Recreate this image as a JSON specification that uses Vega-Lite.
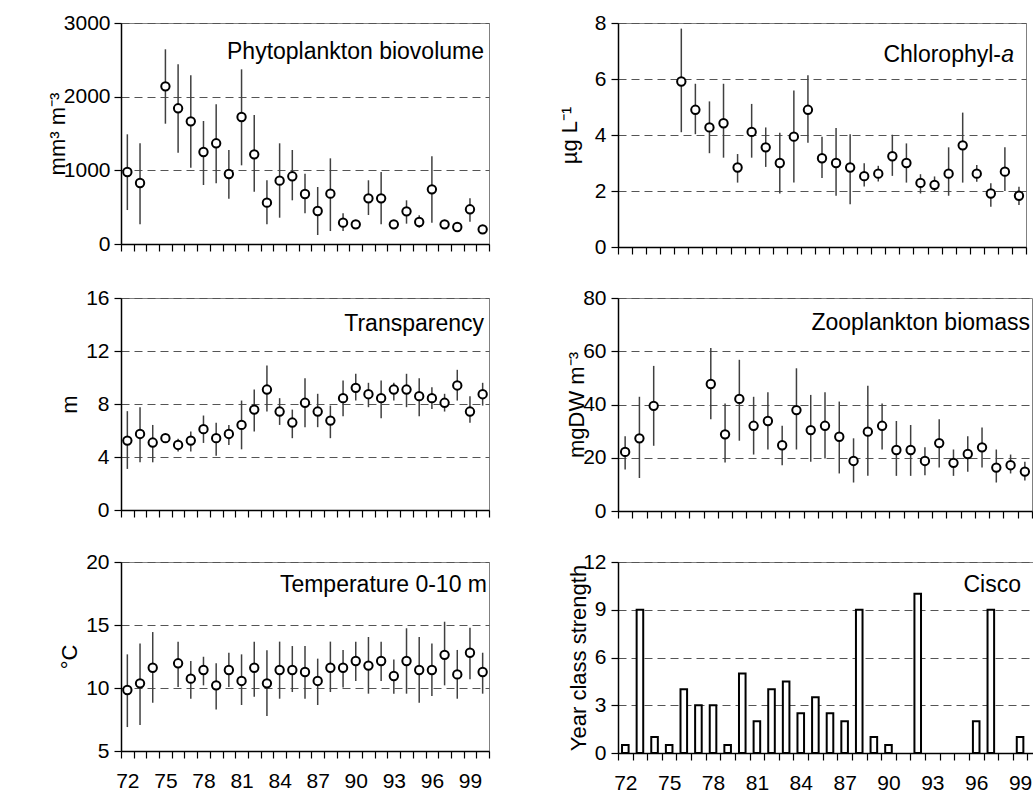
{
  "$schema": "https://vega.github.io/schema/vega-lite/v6.json",
  "background": "white",
  "padding": {"left": 45, "top": 11, "right": 0, "bottom": 0},
  "config": {
    "font": "Liberation Sans",
    "view": {"stroke": "#808080", "strokeWidth": 1},
    "axis": {
      "labelFont": "Liberation Sans", "labelFontSize": 21, "labelColor": "black",
      "titleFont": "Liberation Sans", "titleFontSize": 22, "titleFontWeight": "normal", "titleColor": "black",
      "domainColor": "black", "domainWidth": 1.5, "tickColor": "black", "tickWidth": 1.2, "tickSize": 7,
      "gridColor": "#555555", "gridDash": [8, 5], "gridWidth": 1
    },
    "title": {"font": "Liberation Sans", "fontSize": 23, "fontWeight": "normal", "color": "black", "anchor": "end", "frame": "group", "baseline": "alphabetic"}
  },
  "datasets": {
    "phyto": [
      {"year": 72, "m": 977, "lo": 461, "hi": 1489},
      {"year": 73, "m": 828, "lo": 267, "hi": 1367},
      {"year": 75, "m": 2140, "lo": 1633, "hi": 2643},
      {"year": 76, "m": 1842, "lo": 1240, "hi": 2439},
      {"year": 77, "m": 1665, "lo": 1036, "hi": 2290},
      {"year": 78, "m": 1249, "lo": 801, "hi": 1670},
      {"year": 79, "m": 1367, "lo": 824, "hi": 1896},
      {"year": 80, "m": 950, "lo": 615, "hi": 1276},
      {"year": 81, "m": 1724, "lo": 1068, "hi": 2371},
      {"year": 82, "m": 1217, "lo": 710, "hi": 1751},
      {"year": 83, "m": 561, "lo": 267, "hi": 865},
      {"year": 84, "m": 860, "lo": 357, "hi": 1367},
      {"year": 85, "m": 919, "lo": 593, "hi": 1276},
      {"year": 86, "m": 679, "lo": 417, "hi": 955},
      {"year": 87, "m": 448, "lo": 122, "hi": 774},
      {"year": 88, "m": 683, "lo": 176, "hi": 1163},
      {"year": 89, "m": 290, "lo": 176, "hi": 417},
      {"year": 90, "m": 267, "lo": 220, "hi": 320},
      {"year": 91, "m": 620, "lo": 394, "hi": 865},
      {"year": 92, "m": 620, "lo": 267, "hi": 977},
      {"year": 93, "m": 267, "lo": 220, "hi": 315},
      {"year": 94, "m": 443, "lo": 276, "hi": 593},
      {"year": 95, "m": 299, "lo": 222, "hi": 390},
      {"year": 96, "m": 742, "lo": 290, "hi": 1190},
      {"year": 97, "m": 267, "lo": 220, "hi": 315},
      {"year": 98, "m": 231, "lo": 190, "hi": 275},
      {"year": 99, "m": 471, "lo": 303, "hi": 620},
      {"year": 100, "m": 199, "lo": 160, "hi": 240}
    ],
    "chl": [
      {"year": 76, "m": 5.91, "lo": 4.1, "hi": 7.8},
      {"year": 77, "m": 4.9, "lo": 4.03, "hi": 5.83},
      {"year": 78, "m": 4.27, "lo": 3.35, "hi": 5.2},
      {"year": 79, "m": 4.42, "lo": 3.19, "hi": 5.83},
      {"year": 80, "m": 2.84, "lo": 2.3, "hi": 3.32},
      {"year": 81, "m": 4.11, "lo": 3.19, "hi": 5.11},
      {"year": 82, "m": 3.56, "lo": 2.86, "hi": 4.27},
      {"year": 83, "m": 3.0, "lo": 1.91, "hi": 4.08},
      {"year": 84, "m": 3.94, "lo": 2.3, "hi": 5.59},
      {"year": 85, "m": 4.9, "lo": 3.72, "hi": 6.13},
      {"year": 86, "m": 3.17, "lo": 2.46, "hi": 3.94},
      {"year": 87, "m": 3.0, "lo": 1.83, "hi": 4.25},
      {"year": 88, "m": 2.84, "lo": 1.53, "hi": 4.03},
      {"year": 89, "m": 2.53, "lo": 2.16, "hi": 2.99},
      {"year": 90, "m": 2.62, "lo": 2.34, "hi": 2.9},
      {"year": 91, "m": 3.24, "lo": 2.54, "hi": 4.01},
      {"year": 92, "m": 3.0, "lo": 2.3, "hi": 3.7},
      {"year": 93, "m": 2.29, "lo": 1.91, "hi": 2.6},
      {"year": 94, "m": 2.22, "lo": 2.0, "hi": 2.52},
      {"year": 95, "m": 2.62, "lo": 1.83, "hi": 3.56},
      {"year": 96, "m": 3.63, "lo": 2.3, "hi": 4.8},
      {"year": 97, "m": 2.62, "lo": 2.33, "hi": 2.93},
      {"year": 98, "m": 1.91, "lo": 1.44, "hi": 2.28},
      {"year": 99, "m": 2.69, "lo": 2.0, "hi": 3.56},
      {"year": 100, "m": 1.83, "lo": 1.5, "hi": 2.15}
    ],
    "trans": [
      {"year": 72, "m": 5.24, "lo": 3.1, "hi": 7.46},
      {"year": 73, "m": 5.74, "lo": 3.6, "hi": 7.76},
      {"year": 74, "m": 5.09, "lo": 3.6, "hi": 6.42},
      {"year": 75, "m": 5.42, "lo": 5.1, "hi": 5.7},
      {"year": 76, "m": 4.91, "lo": 4.41, "hi": 5.37},
      {"year": 77, "m": 5.24, "lo": 4.41, "hi": 5.92},
      {"year": 78, "m": 6.1, "lo": 5.06, "hi": 7.13},
      {"year": 79, "m": 5.42, "lo": 4.1, "hi": 6.58},
      {"year": 80, "m": 5.74, "lo": 4.91, "hi": 6.42},
      {"year": 81, "m": 6.42, "lo": 4.58, "hi": 8.26},
      {"year": 82, "m": 7.58, "lo": 5.92, "hi": 9.09},
      {"year": 83, "m": 9.09, "lo": 7.43, "hi": 10.91},
      {"year": 84, "m": 7.43, "lo": 6.42, "hi": 8.44},
      {"year": 85, "m": 6.6, "lo": 5.42, "hi": 7.58},
      {"year": 86, "m": 8.09, "lo": 6.25, "hi": 9.95},
      {"year": 87, "m": 7.43, "lo": 6.25, "hi": 8.77},
      {"year": 88, "m": 6.75, "lo": 5.42, "hi": 7.88},
      {"year": 89, "m": 8.44, "lo": 7.08, "hi": 9.77},
      {"year": 90, "m": 9.22, "lo": 8.26, "hi": 10.28},
      {"year": 91, "m": 8.74, "lo": 7.76, "hi": 9.6},
      {"year": 92, "m": 8.44, "lo": 6.93, "hi": 9.77},
      {"year": 93, "m": 9.09, "lo": 8.26, "hi": 9.6},
      {"year": 94, "m": 9.09, "lo": 7.76, "hi": 10.28},
      {"year": 95, "m": 8.59, "lo": 7.08, "hi": 9.95},
      {"year": 96, "m": 8.44, "lo": 7.63, "hi": 9.27},
      {"year": 97, "m": 8.09, "lo": 7.43, "hi": 8.77},
      {"year": 98, "m": 9.4, "lo": 8.26, "hi": 10.58},
      {"year": 99, "m": 7.43, "lo": 6.58, "hi": 8.59},
      {"year": 100, "m": 8.74, "lo": 7.88, "hi": 9.6}
    ],
    "zoo": [
      {"year": 72, "m": 22.2, "lo": 15.6, "hi": 28.1},
      {"year": 73, "m": 27.3, "lo": 12.4, "hi": 42.9},
      {"year": 74, "m": 39.5, "lo": 24.5, "hi": 54.5},
      {"year": 78, "m": 47.7, "lo": 34.5, "hi": 61.2},
      {"year": 79, "m": 28.8, "lo": 18.2, "hi": 40.4},
      {"year": 80, "m": 42.1, "lo": 26.4, "hi": 56.8},
      {"year": 81, "m": 32.0, "lo": 21.2, "hi": 42.9},
      {"year": 82, "m": 33.8, "lo": 23.1, "hi": 44.6},
      {"year": 83, "m": 24.7, "lo": 17.2, "hi": 32.0},
      {"year": 84, "m": 37.9, "lo": 23.1, "hi": 53.6},
      {"year": 85, "m": 30.4, "lo": 18.5, "hi": 43.6},
      {"year": 86, "m": 32.0, "lo": 19.7, "hi": 44.6},
      {"year": 87, "m": 27.9, "lo": 14.1, "hi": 41.1},
      {"year": 88, "m": 18.8, "lo": 10.7, "hi": 27.3},
      {"year": 89, "m": 29.8, "lo": 13.2, "hi": 47.0},
      {"year": 90, "m": 32.0, "lo": 23.1, "hi": 40.4},
      {"year": 91, "m": 22.9, "lo": 13.2, "hi": 33.8},
      {"year": 92, "m": 22.9, "lo": 13.2, "hi": 32.3},
      {"year": 93, "m": 18.8, "lo": 13.4, "hi": 23.9},
      {"year": 94, "m": 25.5, "lo": 16.3, "hi": 34.5},
      {"year": 95, "m": 18.1, "lo": 13.2, "hi": 23.1},
      {"year": 96, "m": 21.4, "lo": 14.7, "hi": 28.1},
      {"year": 97, "m": 23.9, "lo": 16.3, "hi": 31.4},
      {"year": 98, "m": 16.3, "lo": 10.7, "hi": 23.1},
      {"year": 99, "m": 17.2, "lo": 14.1, "hi": 21.2},
      {"year": 100, "m": 14.8, "lo": 11.5, "hi": 18.5}
    ],
    "temp": [
      {"year": 72, "m": 9.84, "lo": 6.9, "hi": 12.67},
      {"year": 73, "m": 10.37, "lo": 7.06, "hi": 13.54},
      {"year": 74, "m": 11.61, "lo": 8.83, "hi": 14.44},
      {"year": 76, "m": 11.96, "lo": 10.08, "hi": 13.68},
      {"year": 77, "m": 10.74, "lo": 9.15, "hi": 12.14},
      {"year": 78, "m": 11.43, "lo": 10.21, "hi": 12.48},
      {"year": 79, "m": 10.21, "lo": 8.3, "hi": 11.96},
      {"year": 80, "m": 11.43, "lo": 10.08, "hi": 12.8},
      {"year": 81, "m": 10.56, "lo": 8.65, "hi": 12.67},
      {"year": 82, "m": 11.61, "lo": 9.31, "hi": 13.68},
      {"year": 83, "m": 10.37, "lo": 7.78, "hi": 13.0},
      {"year": 84, "m": 11.43, "lo": 9.15, "hi": 13.68},
      {"year": 85, "m": 11.43, "lo": 9.68, "hi": 13.33},
      {"year": 86, "m": 11.27, "lo": 9.15, "hi": 13.33},
      {"year": 87, "m": 10.56, "lo": 8.65, "hi": 12.33},
      {"year": 88, "m": 11.61, "lo": 9.68, "hi": 13.68},
      {"year": 89, "m": 11.61, "lo": 10.03, "hi": 13.02},
      {"year": 90, "m": 12.14, "lo": 10.56, "hi": 13.68},
      {"year": 91, "m": 11.78, "lo": 9.55, "hi": 14.05},
      {"year": 92, "m": 12.14, "lo": 10.56, "hi": 13.68},
      {"year": 93, "m": 10.95, "lo": 9.55, "hi": 12.27},
      {"year": 94, "m": 12.14, "lo": 9.55, "hi": 14.74},
      {"year": 95, "m": 11.43, "lo": 8.83, "hi": 14.05},
      {"year": 96, "m": 11.43, "lo": 9.37, "hi": 13.54},
      {"year": 97, "m": 12.63, "lo": 10.21, "hi": 15.26},
      {"year": 98, "m": 11.08, "lo": 9.15, "hi": 13.02},
      {"year": 99, "m": 12.8, "lo": 10.69, "hi": 14.79},
      {"year": 100, "m": 11.27, "lo": 9.55, "hi": 12.8}
    ],
    "cisco": [
      {"year": 72, "v": 0.5}, {"year": 73, "v": 9}, {"year": 74, "v": 1}, {"year": 75, "v": 0.5},
      {"year": 76, "v": 4}, {"year": 77, "v": 3}, {"year": 78, "v": 3}, {"year": 79, "v": 0.5},
      {"year": 80, "v": 5}, {"year": 81, "v": 2}, {"year": 82, "v": 4}, {"year": 83, "v": 4.5},
      {"year": 84, "v": 2.5}, {"year": 85, "v": 3.5}, {"year": 86, "v": 2.5}, {"year": 87, "v": 2},
      {"year": 88, "v": 9}, {"year": 89, "v": 1}, {"year": 90, "v": 0.5}, {"year": 92, "v": 10},
      {"year": 96, "v": 2}, {"year": 97, "v": 9}, {"year": 99, "v": 1}
    ],
    "chlLabel": [
      {"text": "a", "year": 100, "pos": 6.6}
    ]
  },
  "columns": 2,
  "align": "each",
  "bounds": "flush",
  "spacing": {"row": 51, "column": 129},
  "concat": [
    {
      "width": 368, "height": 221,
      "title": {"text": "Phytoplankton biovolume", "offset": -52, "dx": -5},
      "data": {"name": "phyto"},
      "encoding": {
        "x": {"field": "year", "type": "ordinal", "scale": {"type": "band", "domain": [72,73,74,75,76,77,78,79,80,81,82,83,84,85,86,87,88,89,90,91,92,93,94,95,96,97,98,99,100], "paddingInner": 0, "paddingOuter": 0},
              "axis": {"title": null, "labels": false, "tickBand": "extent", "grid": false}}
      },
      "layer": [
        {"mark": {"type": "rule", "color": "#404040", "strokeWidth": 1.5},
         "encoding": {"y": {"field": "lo", "type": "quantitative", "scale": {"domain": [0, 3000], "nice": false},
                            "axis": {"title": "mm³ m⁻³", "values": [0, 1000, 2000, 3000], "format": "d", "grid": true, "labelPadding": 4, "titleX": -64, "titleBaseline": "middle"}},
                      "y2": {"field": "hi"}}},
        {"mark": {"type": "point", "shape": "circle", "filled": true, "fill": "white", "stroke": "black", "strokeWidth": 2, "size": 70, "opacity": 1},
         "encoding": {"y": {"field": "m", "type": "quantitative"}}}
      ]
    },
    {
      "width": 408, "height": 224,
      "title": {"text": "Chlorophyl-", "offset": -55, "dx": -25},
      "encoding": {
        "x": {"field": "year", "type": "ordinal", "scale": {"type": "band", "domain": [72,73,74,75,76,77,78,79,80,81,82,83,84,85,86,87,88,89,90,91,92,93,94,95,96,97,98,99,100], "paddingInner": 0, "paddingOuter": 0},
              "axis": {"title": null, "labels": false, "tickBand": "extent", "grid": false}}
      },
      "layer": [
        {"data": {"name": "chl"},
         "mark": {"type": "rule", "color": "#404040", "strokeWidth": 1.5},
         "encoding": {"y": {"field": "lo", "type": "quantitative", "scale": {"domain": [0, 8], "nice": false},
                            "axis": {"title": "µg L⁻¹", "values": [0, 2, 4, 6, 8], "format": "d", "grid": true, "labelPadding": 5, "titleX": -49, "titleBaseline": "middle"}},
                      "y2": {"field": "hi"}}},
        {"data": {"name": "chl"},
         "mark": {"type": "point", "shape": "circle", "filled": true, "fill": "white", "stroke": "black", "strokeWidth": 2, "size": 70, "opacity": 1},
         "encoding": {"y": {"field": "m", "type": "quantitative"}}},
        {"data": {"name": "chlLabel"},
         "mark": {"type": "text", "font": "Liberation Sans", "fontSize": 23, "fontStyle": "italic", "color": "black", "align": "right", "baseline": "alphabetic", "dx": -5},
         "encoding": {"y": {"field": "pos", "type": "quantitative"}, "text": {"field": "text"}}}
      ]
    },
    {
      "width": 368, "height": 212,
      "title": {"text": "Transparency", "offset": -49, "dx": -5},
      "data": {"name": "trans"},
      "encoding": {
        "x": {"field": "year", "type": "ordinal", "scale": {"type": "band", "domain": [72,73,74,75,76,77,78,79,80,81,82,83,84,85,86,87,88,89,90,91,92,93,94,95,96,97,98,99,100], "paddingInner": 0, "paddingOuter": 0},
              "axis": {"title": null, "labels": false, "tickBand": "extent", "grid": false}}
      },
      "layer": [
        {"mark": {"type": "rule", "color": "#404040", "strokeWidth": 1.5},
         "encoding": {"y": {"field": "lo", "type": "quantitative", "scale": {"domain": [0, 16], "nice": false},
                            "axis": {"title": "m", "values": [0, 4, 8, 12, 16], "format": "d", "grid": true, "labelPadding": 5, "titleX": -52, "titleBaseline": "middle"}},
                      "y2": {"field": "hi"}}},
        {"mark": {"type": "point", "shape": "circle", "filled": true, "fill": "white", "stroke": "black", "strokeWidth": 2, "size": 70, "opacity": 1},
         "encoding": {"y": {"field": "m", "type": "quantitative"}}}
      ]
    },
    {
      "width": 414, "height": 213,
      "title": {"text": "Zooplankton biomass", "offset": -48, "dx": -2},
      "data": {"name": "zoo"},
      "encoding": {
        "x": {"field": "year", "type": "ordinal", "scale": {"type": "band", "domain": [72,73,74,75,76,77,78,79,80,81,82,83,84,85,86,87,88,89,90,91,92,93,94,95,96,97,98,99,100], "paddingInner": 0, "paddingOuter": 0},
              "axis": {"title": null, "labels": false, "tickBand": "extent", "grid": false}}
      },
      "layer": [
        {"mark": {"type": "rule", "color": "#404040", "strokeWidth": 1.5},
         "encoding": {"y": {"field": "lo", "type": "quantitative", "scale": {"domain": [0, 80], "nice": false},
                            "axis": {"title": "mgDW m⁻³", "values": [0, 20, 40, 60, 80], "format": "d", "grid": true, "labelPadding": 5, "titleX": -42, "titleBaseline": "middle"}},
                      "y2": {"field": "hi"}}},
        {"mark": {"type": "point", "shape": "circle", "filled": true, "fill": "white", "stroke": "black", "strokeWidth": 2, "size": 70, "opacity": 1},
         "encoding": {"y": {"field": "m", "type": "quantitative"}}}
      ]
    },
    {
      "width": 368, "height": 189,
      "title": {"text": "Temperature 0-10 m", "offset": -46, "dx": -2},
      "data": {"name": "temp"},
      "encoding": {
        "x": {"field": "year", "type": "ordinal", "scale": {"type": "band", "domain": [72,73,74,75,76,77,78,79,80,81,82,83,84,85,86,87,88,89,90,91,92,93,94,95,96,97,98,99,100], "paddingInner": 0, "paddingOuter": 0},
              "axis": {"title": null, "tickBand": "extent", "grid": false, "labelAngle": 0, "labelOverlap": false, "labelPadding": 12, "labelExpr": "datum.value % 3 == 0 ? datum.label : ''"}}
      },
      "layer": [
        {"mark": {"type": "rule", "color": "#404040", "strokeWidth": 1.5},
         "encoding": {"y": {"field": "lo", "type": "quantitative", "scale": {"domain": [5, 20], "nice": false, "zero": false},
                            "axis": {"title": "°C", "values": [5, 10, 15, 20], "format": "d", "grid": true, "labelPadding": 5, "titleX": -52, "titleBaseline": "middle"}},
                      "y2": {"field": "hi"}}},
        {"mark": {"type": "point", "shape": "circle", "filled": true, "fill": "white", "stroke": "black", "strokeWidth": 2, "size": 70, "opacity": 1},
         "encoding": {"y": {"field": "m", "type": "quantitative"}}}
      ]
    },
    {
      "width": 424, "height": 191,
      "title": {"text": "Cisco", "offset": -46, "dx": -21},
      "data": {"name": "cisco"},
      "mark": {"type": "bar", "fill": "white", "stroke": "black", "strokeWidth": 2, "width": {"band": 0.45}},
      "encoding": {
        "x": {"field": "year", "type": "ordinal", "scale": {"type": "band", "domain": [72,73,74,75,76,77,78,79,80,81,82,83,84,85,86,87,88,89,90,91,92,93,94,95,96,97,98,99,100], "paddingInner": 0, "paddingOuter": 0},
              "axis": {"title": null, "tickBand": "extent", "grid": false, "labelAngle": 0, "labelOverlap": false, "labelPadding": 12, "labelExpr": "datum.value % 3 == 0 ? datum.label : ''"}},
        "y": {"field": "v", "type": "quantitative", "scale": {"domain": [0, 12], "nice": false},
              "axis": {"title": "Year class strength", "values": [0, 3, 6, 9, 12], "format": "d", "grid": true, "labelPadding": 5, "titleX": -40, "titleBaseline": "middle"}}
      }
    }
  ]
}
